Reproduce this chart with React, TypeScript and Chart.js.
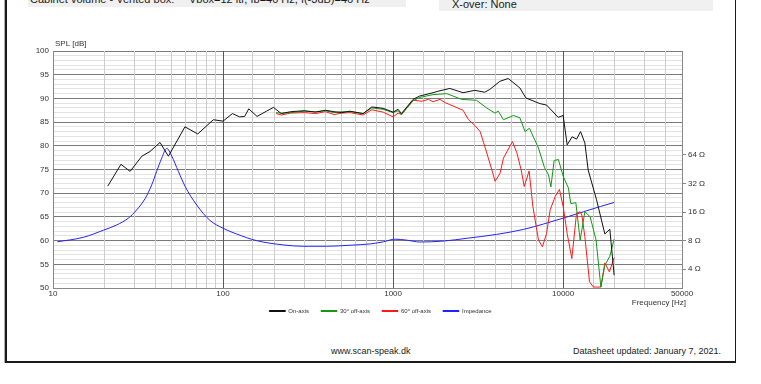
import React, { useEffect, useRef } from 'react';
import { Chart, registerables } from 'chart.js';

Chart.register(...registerables);

// ---- Data ----
const onAxisFreq = [21, 25.1, 28.4, 33.3, 37.2, 42.6, 47.7, 59.7, 71, 87.7, 100, 113.6, 125, 134, 141.6, 158.5, 180, 198, 220, 250, 300, 350, 400, 450, 500, 558, 666, 750, 874, 1000, 1070, 1120, 1311, 1435, 1718, 1832, 2155, 2580, 3024, 3460, 3706, 4245, 4752, 5570, 6035, 7300, 7990, 9350, 10000, 10560, 11300, 11990, 12660, 13420, 14030, 15720, 17590, 18820, 19950];
const onAxisSpl = [71.5, 76.1, 74.6, 77.8, 78.8, 80.7, 77.8, 84.0, 82.5, 85.5, 85.2, 86.8, 86.1, 86.2, 87.8, 86.2, 87.3, 88.1, 86.8, 87.2, 87.4, 87.1, 87.5, 87.2, 87.0, 87.3, 86.8, 88.2, 87.9, 87.1, 87.7, 86.8, 89.8, 90.5, 91.2, 91.5, 92.1, 91.2, 91.7, 91.3, 91.9, 93.6, 94.2, 92.2, 90.1, 88.9, 88.6, 86.0, 86.4, 80.2, 81.9, 81.4, 83.0, 80.6, 74.9, 68.6, 61.4, 62.4, 52.7];

const offAxis30Freq = [205, 220, 250, 300, 350, 400, 450, 500, 558, 666, 750, 874, 1000, 1070, 1120, 1311, 1435, 1718, 2070, 2528, 3093, 3546, 3970, 4157, 4456, 5105, 5570, 5970, 6338, 7163, 7770, 8200, 8470, 8850, 9380, 10000, 10740, 11090, 11880, 12590, 13420, 14420, 15620, 16670, 17590, 18820, 19950];
const offAxis30Spl = [87.0, 86.9, 87.0, 87.3, 87.2, 87.4, 87.0, 87.2, 87.2, 86.8, 88.0, 87.7, 87.0, 87.4, 86.6, 89.5, 90.2, 90.8, 91.0, 89.8, 89.6, 88.0, 86.9, 87.3, 85.5, 86.4, 85.9, 83.0, 83.7, 79.5, 75.4, 73.9, 71.3, 76.9, 77.1, 73.6, 71.1, 67.8, 68.0, 60.1, 66.1, 65.0, 60.1, 50.2, 54.8, 56.7, 60.3];

const offAxis60Freq = [205, 220, 250, 300, 350, 400, 450, 500, 558, 666, 750, 874, 1000, 1070, 1120, 1311, 1476, 1614, 1718, 1888, 2023, 2155, 2580, 2775, 3024, 3250, 3460, 3810, 3980, 4256, 4456, 5035, 5343, 5665, 5903, 6310, 6637, 7163, 7553, 7990, 8390, 8980, 9510, 10000, 10560, 11250, 11990, 12590, 12880, 13420, 14290, 15070, 16670, 17590, 18700, 19950];
const offAxis60Spl = [86.8, 86.5, 86.9, 87.0, 86.8, 87.2, 86.6, 86.9, 87.0, 86.5, 87.6, 87.1, 86.1, 86.9, 86.6, 89.6, 89.4, 89.8, 89.3, 89.8, 89.1, 88.7, 87.5, 85.5, 84.3, 83.0, 79.9, 74.9, 72.5, 74.2, 77.4, 80.9, 78.5, 74.9, 71.4, 74.7, 67.2, 60.1, 58.7, 61.5, 66.5, 69.3, 70.8, 67.2, 61.5, 56.2, 65.8, 66.1, 65.4, 60.8, 51.3, 50.2, 50.2, 55.3, 53.4, 56.4];

const impedanceFreq = [10.6, 15.1, 19.8, 23.7, 27.75, 31, 34.8, 38.1, 40.7, 43.6, 46.6, 49.9, 54.6, 59.8, 70, 83.6, 100, 120, 157, 227, 296, 406, 558, 733, 877, 1027, 1201, 1435, 1976, 2725, 4046, 5850, 7660, 10000, 13140, 16530, 19950];
const impedanceOhm = [7.77, 8.67, 10.3, 11.7, 13.8, 16.8, 22.2, 31.1, 43.0, 59.3, 75.1, 62.4, 43.0, 29.9, 19.0, 13.1, 10.8, 9.4, 8.0, 7.2, 6.97, 6.97, 7.15, 7.38, 7.77, 8.28, 8.09, 7.73, 7.91, 8.47, 9.29, 10.5, 11.97, 13.8, 16.1, 18.3, 20.2];

const freqLabels = [10, 100, 1000, 10000, 50000];
const ohmTicks = [4, 8, 16, 32, 64];
const splMin = 50;
const splMax = 100;
// 8 ohm sits at 60 dB, 20*log10 scaling
const ohmMin = 8 * Math.pow(10, (splMin - 60) / 20);
const ohmMax = 8 * Math.pow(10, (splMax - 60) / 20);

const FONT = '"Liberation Sans", Arial, sans-serif';

const toPoints = (f: number[], v: number[]) => f.map((x, i) => ({ x, y: v[i] }));

export default function App() {
  const ref = useRef<HTMLCanvasElement>(null);

  useEffect(() => {
    if (!ref.current) return;
    const titles = {
      id: 'axisTitles',
      afterDraw(chart: any) {
        const { ctx, chartArea } = chart;
        ctx.save();
        ctx.font = `8px ${FONT}`;
        ctx.fillStyle = '#333';
        ctx.textBaseline = 'middle';
        ctx.textAlign = 'left';
        ctx.fillText('SPL [dB]', chartArea.left + 2, chartArea.top - 7);
        ctx.textAlign = 'right';
        ctx.fillText('Frequency [Hz]', chartArea.right + 4, chartArea.bottom + 15);
        ctx.restore();
      },
    };

    const chart = new Chart(ref.current, {
      type: 'line',
      data: {
        datasets: [
          { label: 'On-axis', data: toPoints(onAxisFreq, onAxisSpl), borderColor: '#111111', backgroundColor: '#111111', yAxisID: 'y' },
          { label: '30° off-axis', data: toPoints(offAxis30Freq, offAxis30Spl), borderColor: '#119911', backgroundColor: '#007700', yAxisID: 'y' },
          { label: '60° off-axis', data: toPoints(offAxis60Freq, offAxis60Spl), borderColor: '#ff1a1a', backgroundColor: '#ff0000', yAxisID: 'y' },
          { label: 'Impedance', data: toPoints(impedanceFreq, impedanceOhm), borderColor: '#2222ff', backgroundColor: '#0000ff', yAxisID: 'y2', cubicInterpolationMode: 'monotone' },
        ] as any,
      },
      options: {
        animation: false,
        responsive: false,
        events: [],
        elements: { point: { radius: 0 }, line: { borderWidth: 1, tension: 0 } },
        layout: { padding: { left: 0, right: 0, top: 51, bottom: 60 } },
        plugins: {
          legend: {
            position: 'bottom',
            labels: { boxWidth: 16, boxHeight: 1, padding: 12, color: '#333', font: { size: 6, family: FONT } },
          },
          tooltip: { enabled: false },
        },
        scales: {
          x: {
            type: 'logarithmic',
            min: 10,
            max: 50000,
            afterFit: (s: any) => { s.height = 8; },
            border: { color: '#888' },
            grid: {
              z: -1,
              drawTicks: false,
              color: (c: any) => {
                const v = c.tick ? c.tick.value : 10;
                const d = Math.log10(v);
                return Math.abs(d - Math.round(d)) < 1e-6 ? '#5a5a5a' : '#cdcdcd';
              },
            },
            ticks: {
              autoSkip: false,
              maxRotation: 0,
              padding: 1,
              color: '#333',
              font: { size: 8, family: FONT },
              callback: (v: any) => (freqLabels.includes(Number(v)) ? String(v) : ''),
            },
          },
          y: {
            type: 'linear',
            position: 'left',
            min: splMin,
            max: splMax,
            afterFit: (s: any) => { s.width = 53; },
            border: { color: '#888' },
            grid: {
              z: -2,
              drawTicks: false,
              color: (c: any) => (c.tick && c.tick.value % 5 === 0 ? '#7a7a7a' : '#e3e3e3'),
            },
            ticks: {
              stepSize: 1,
              autoSkip: false,
              padding: 4,
              color: '#333',
              font: { size: 8, family: FONT },
              callback: (v: any) => (Number(v) % 5 === 0 ? String(v) : ''),
            },
          },
          y2: {
            type: 'logarithmic',
            position: 'right',
            min: ohmMin,
            max: ohmMax,
            afterFit: (s: any) => { s.width = 79; },
            afterBuildTicks: (s: any) => { s.ticks = ohmTicks.map((v) => ({ value: v })); },
            border: { display: true, color: '#888' },
            grid: { drawOnChartArea: false, drawTicks: true, tickLength: 4, color: '#888' },
            ticks: {
              autoSkip: false,
              padding: 2,
              color: '#333',
              font: { size: 8, family: FONT },
              callback: (v: any) => `${v} Ω`,
            },
          },
        },
      } as any,
      plugins: [titles],
    });
    return () => chart.destroy();
  }, []);

  const textBase: React.CSSProperties = { position: 'absolute', whiteSpace: 'pre', color: '#1a1a1a', fontFamily: FONT };

  return (
    <div style={{ position: 'absolute', left: 0, top: 0, width: 761, height: 384, overflow: 'hidden', background: '#fff' }}>
      <div style={{ position: 'absolute', left: 28, top: 0, width: 378, height: 7, background: '#f0f0f0' }} />
      <div style={{ position: 'absolute', left: 439, top: 0, width: 274, height: 11, background: '#f0f0f0' }} />
      <div style={{ ...textBase, left: 30, top: -6, fontSize: 11, lineHeight: '11px' }}>Cabinet volume - Vented box:</div>
      <div style={{ ...textBase, left: 189, top: -6, fontSize: 11, lineHeight: '11px' }}>Vbox=12 ltr, fb=40 Hz, f(-3dB)=46 Hz</div>
      <div style={{ ...textBase, left: 452, top: -1.3, fontSize: 11, lineHeight: '11px' }}>X-over: None</div>
      <div
        style={{
          position: 'absolute', left: 5, top: -5, width: 728, height: 366,
          borderLeft: '2px solid #1a1a1a', borderRight: '1px solid #1a1a1a', borderBottom: '2px solid #1a1a1a',
          boxShadow: '-1px 0 0 #b0b0b0',
        }}
      />
      <div style={{ ...textBase, left: 270.8, width: 200, top: 347, fontSize: 9, lineHeight: '9px', textAlign: 'center' }}>www.scan-speak.dk</div>
      <div style={{ ...textBase, left: 421, width: 300, top: 347, fontSize: 9, lineHeight: '9px', textAlign: 'right' }}>Datasheet updated: January 7, 2021.</div>
      <canvas ref={ref} width={761} height={384} style={{ position: 'absolute', left: 0, top: 0, display: 'block' }} />
    </div>
  );
}
